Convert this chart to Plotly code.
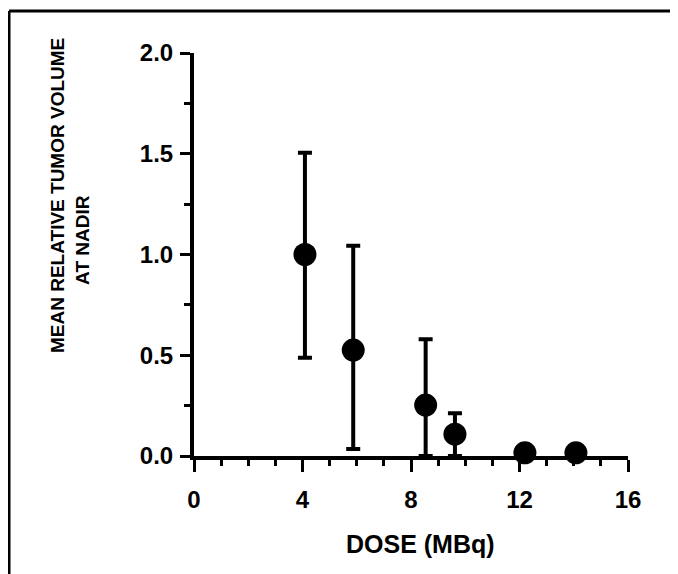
import plotly.graph_objects as go

W, H = 678, 574
OFF = 8  # page body margin offsets the figure in the browser

dose = [4.09, 5.87, 8.54, 9.62, 12.2, 14.08]
volume = [1.0, 0.526, 0.253, 0.108, 0.016, 0.016]
err_plus = [0.505, 0.518, 0.326, 0.104, 0.0, 0.0]
err_minus = [0.512, 0.491, 0.253, 0.108, 0.0, 0.0]

x_ticks = [0, 4, 8, 12, 16]
y_ticks = [0.0, 0.5, 1.0, 1.5, 2.0]
y_tick_text = ["0.0", "0.5", "1.0", "1.5", "2.0"]

x_title = "DOSE (MBq)"
y_title_1 = "MEAN RELATIVE TUMOR VOLUME"
y_title_2 = "AT NADIR"

FONT = "Liberation Sans, Arial, Helvetica, sans-serif"

def px(x):
    return (x - OFF) / W

def py(y):
    return 1 - (y - OFF) / H

fig = go.Figure()
fig.add_trace(go.Scatter(
    x=dose, y=volume, mode="markers",
    marker=dict(color="black", size=23, line=dict(width=0)),
    error_y=dict(type="data", symmetric=False, array=err_plus, arrayminus=err_minus,
                 color="black", thickness=4, width=7),
    cliponaxis=False, showlegend=False,
))

axis_common = dict(
    showgrid=False, zeroline=False, showline=True, linecolor="black", linewidth=4,
    ticks="outside", tickcolor="black", tickwidth=3, automargin=False,
    tickfont=dict(family=FONT, size=24, color="black", weight="bold"),
)

# second title line is shifted toward its start, as in the original
y_title_text = y_title_1 + "<br>" + y_title_2 + "\u00a0" * 17

fig.update_layout(
    width=W, height=H, autosize=False,
    margin=dict(l=0, r=0, t=0, b=0, pad=0, autoexpand=False),
    paper_bgcolor="white", plot_bgcolor="white",
    xaxis=dict(
        **axis_common,
        domain=[px(194), px(628)], range=[0, 16],
        tickmode="array", tickvals=x_ticks, ticktext=[str(v) for v in x_ticks],
        ticklen=12,
        minor=dict(ticks="outside", dtick=1, ticklen=6, tickwidth=3, tickcolor="black"),
        ticklabelstandoff=7,
        anchor="y",
    ),
    yaxis=dict(
        **axis_common,
        domain=[py(456), py(53)], range=[0, 2],
        tickmode="array", tickvals=y_ticks, ticktext=y_tick_text,
        ticklen=10,
        minor=dict(ticks="outside", dtick=0.25, ticklen=6, tickwidth=3, tickcolor="black"),
        ticklabelstandoff=2,
        anchor="x",
    ),
    shapes=[
        dict(type="line", xref="paper", yref="paper", x0=px(9), x1=1.0, y0=py(11), y1=py(11),
             line=dict(color="black", width=3)),
        dict(type="line", xref="paper", yref="paper", x0=px(9), x1=px(9), y0=py(11), y1=0,
             line=dict(color="black", width=3)),
    ],
    annotations=[
        dict(text=x_title, xref="paper", yref="paper", x=px(420), y=py(544),
             showarrow=False, xanchor="center", yanchor="middle",
             font=dict(family=FONT, size=25, color="black", weight="bold")),
        dict(text=y_title_text, xref="paper", yref="paper", x=px(70), y=py(196),
             showarrow=False, textangle=-90, xanchor="center", yanchor="middle",
             align="center",
             font=dict(family=FONT, size=19, color="black", weight="bold")),
    ],
)

fig.write_html("out.html")
